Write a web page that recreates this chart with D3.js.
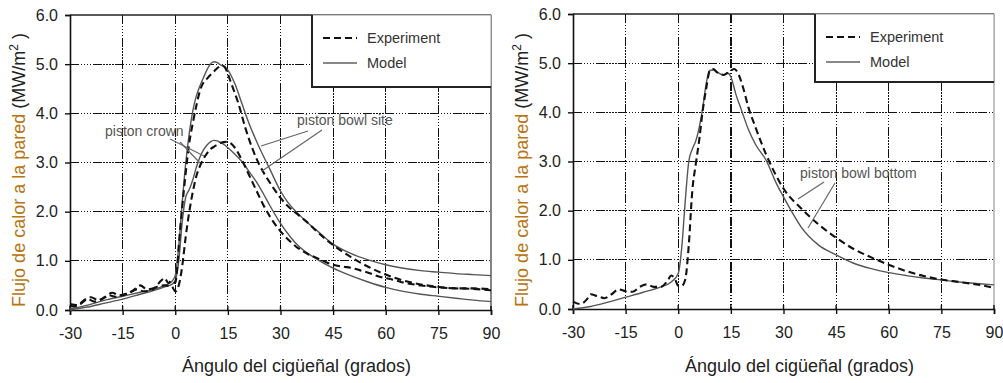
<!DOCTYPE html>
<html lang="es">
<head>
<meta charset="UTF-8">
<title>Flujo de calor a la pared</title>
<script src="https://d3js.org/d3.v7.min.js"></script>
<style>
  body { margin: 0; background: #fff; }
  svg { font-family: "Liberation Sans", Arial, sans-serif; }
  .grid line { stroke: #111; stroke-width: 1; stroke-dasharray: 9,1.5,1.5,1.5,1.5,1.5,1.5,1.5,1.5,1.5; shape-rendering: crispEdges; }
  .tick text { font-size: 16px; fill: #222; }
  .exp { fill: none; stroke: #111; stroke-width: 2.1; stroke-dasharray: 7,4; }
  .model { fill: none; stroke: #555; stroke-width: 1.4; }
  .note { font-size: 14px; fill: #555; }
  .leader { stroke: #666; stroke-width: 1.2; }
</style>
</head>
<body>
<div class="canvas"></div>
<script>
  // ejes
  const xTicks = [-30, -15, 0, 15, 30, 45, 60, 75, 90];
  const yTicks = [0, 1, 2, 3, 4, 5, 6];
  const legendLabels = ["Experiment", "Model"];

  // panel izquierdo: piston crown / piston bowl site  [grados, MW/m2]
  const crownExp = [[-30,0.1],[-29,0.07],[-27,0.12],[-25,0.22],[-23,0.17],[-21,0.22],[-19,0.3],[-17,0.27],[-15,0.3],[-13,0.35],[-11,0.42],[-9,0.38],[-7,0.4],[-5,0.48],[-3,0.5],[-1,0.48],[0,0.38],[1,0.5],[2,0.9],[3,1.5],[4,2.0],[5,2.4],[6,2.72],[7,2.92],[8,3.07],[9,3.18],[10,3.27],[11,3.32],[12,3.36],[13,3.4],[14.5,3.42],[16,3.38],[17,3.3],[19,3.05],[21,2.75],[23,2.45],[25,2.15],[27,1.9],[30,1.6],[33,1.38],[35,1.26],[38,1.13],[40,1.07],[43,0.97],[45,0.92],[48,0.88],[50,0.86],[53,0.8],[55,0.76],[58,0.68],[60,0.65],[63,0.6],[65,0.56],[70,0.5],[75,0.46],[80,0.44],[85,0.43],[90,0.4]];
  const crownModel = [[-30,0.0],[-25,0.06],[-20,0.14],[-15,0.22],[-10,0.32],[-6,0.4],[-3,0.47],[-1,0.52],[0,0.6],[1,1.0],[2,1.8],[3,2.3],[4,2.45],[5,2.65],[6,2.9],[7,3.1],[8,3.25],[9,3.35],[10,3.42],[11,3.45],[12,3.44],[13,3.4],[14,3.36],[15,3.3],[17,3.17],[19,3.02],[21,2.82],[23,2.62],[25,2.38],[27,2.12],[30,1.76],[33,1.47],[35,1.31],[40,1.05],[45,0.85],[50,0.7],[55,0.57],[60,0.46],[65,0.38],[70,0.32],[75,0.28],[80,0.24],[85,0.2],[90,0.17]];
  const bowlSiteExp = [[-30,0.12],[-28,0.1],[-26,0.2],[-24,0.26],[-22,0.2],[-20,0.26],[-18,0.35],[-16,0.3],[-14,0.33],[-12,0.4],[-10,0.5],[-8,0.42],[-6,0.45],[-4,0.6],[-3,0.65],[-2,0.55],[-1,0.6],[0,0.55],[0.5,0.8],[1,1.3],[2,2.1],[3,2.8],[4,3.4],[5,3.8],[6,4.15],[7,4.45],[8,4.62],[9,4.7],[10,4.78],[11,4.85],[12,4.92],[13.3,4.97],[14,4.95],[15,4.8],[16,4.6],[18,4.2],[20,3.7],[22,3.28],[24,2.95],[26,2.7],[28,2.48],[30,2.28],[32,2.12],[35,1.94],[38,1.76],[40,1.62],[45,1.32],[50,1.08],[55,0.88],[60,0.72],[65,0.6],[70,0.52],[75,0.47],[80,0.44],[85,0.44],[90,0.42]];
  const bowlSiteModel = [[-30,0.02],[-25,0.1],[-20,0.2],[-15,0.28],[-10,0.36],[-6,0.42],[-3,0.5],[-1,0.58],[0,0.7],[1,1.3],[2,2.2],[3,3.0],[4,3.6],[5,4.05],[6,4.35],[7,4.55],[8,4.72],[9,4.88],[10,5.0],[11,5.05],[12,5.03],[13,4.98],[14,4.95],[15,4.88],[17,4.6],[19,4.2],[21,3.8],[24,3.3],[27,2.86],[30,2.42],[32,2.2],[35,1.96],[38,1.76],[40,1.64],[45,1.34],[50,1.15],[55,1.02],[60,0.92],[65,0.85],[70,0.8],[75,0.77],[80,0.74],[85,0.72],[90,0.7]];

  // panel derecho: piston bowl bottom
  const bottomExp = [[-30,0.15],[-28,0.1],[-26,0.2],[-25,0.3],[-23,0.26],[-21,0.22],[-19,0.3],[-17,0.4],[-15,0.36],[-13,0.35],[-11,0.45],[-9,0.5],[-7,0.45],[-5,0.45],[-3,0.58],[-2,0.68],[-1,0.62],[0,0.47],[1,0.47],[2,0.6],[3,1.3],[4,2.4],[5,2.95],[6,3.45],[7,4.05],[8,4.5],[9,4.85],[10,4.88],[11,4.82],[12,4.78],[13,4.76],[14,4.8],[15,4.85],[16,4.88],[17,4.8],[18.5,4.5],[20,4.1],[22,3.7],[25,3.15],[28,2.7],[30,2.45],[35,2.05],[40,1.72],[45,1.45],[50,1.22],[55,1.05],[60,0.9],[65,0.77],[70,0.67],[75,0.6],[80,0.55],[85,0.5],[90,0.43]];
  const bottomModel = [[-30,0.0],[-25,0.05],[-20,0.14],[-15,0.24],[-10,0.34],[-5,0.45],[-2,0.55],[0,0.72],[1,1.25],[2,2.2],[3,3.0],[4,3.25],[5,3.42],[6,3.7],[7,4.1],[8,4.6],[9,4.85],[10,4.86],[11,4.82],[12,4.78],[13,4.76],[14,4.8],[15,4.72],[16.5,4.35],[18,4.05],[20,3.65],[22,3.35],[25,3.03],[28,2.55],[30,2.28],[33,1.9],[35,1.67],[40,1.3],[45,1.1],[50,0.93],[55,0.82],[60,0.74],[65,0.68],[70,0.63],[75,0.59],[80,0.55],[85,0.52],[90,0.49]];

  const svg = d3.select('.canvas')
    .append('svg')
    .attr('width', 1003)
    .attr('height', 383)

  function panel(opt) {
    const x = d3.scaleLinear().domain([-30, 90]).range([opt.left, opt.right]);
    const y = d3.scaleLinear().domain([0, 6]).range([opt.bottom, opt.top]);
    const g = svg.append('g');

    // rejilla
    const grid = g.append('g').attr('class', 'grid');
    grid.selectAll('line.h')
      .data(yTicks.slice(1, -1))
      .enter().append('line')
      .attr('x1', opt.left).attr('x2', opt.right)
      .attr('y1', d => y(d)).attr('y2', d => y(d));
    grid.selectAll('line.v')
      .data(xTicks.slice(1, -1))
      .enter().append('line')
      .attr('x1', d => x(d)).attr('x2', d => x(d))
      .attr('y1', opt.top).attr('y2', opt.bottom)
      .style('stroke-width', d => d === opt.thick ? 2 : 1);

    // marco
    g.append('line').attr('x1', opt.left).attr('x2', opt.right).attr('y1', opt.top).attr('y2', opt.top)
      .attr('stroke', '#222').attr('stroke-width', 1.5);
    g.append('line').attr('x1', opt.right).attr('x2', opt.right).attr('y1', opt.top).attr('y2', opt.bottom)
      .attr('stroke', opt.rightColor).attr('stroke-width', 1.2);

    // ejes
    const xAxis = g.append('g')
      .attr('transform', `translate(0,${opt.bottom})`)
      .call(d3.axisBottom(x).tickValues(xTicks).tickSize(5).tickPadding(13).tickFormat(d => String(d)));
    const yAxis = g.append('g')
      .attr('transform', `translate(${opt.left},0)`)
      .call(d3.axisLeft(y).tickValues(yTicks).tickSize(5).tickPadding(7).tickFormat(d => d.toFixed(1)));
    [xAxis, yAxis].forEach(a => {
      a.select('.domain').attr('stroke', '#111').attr('stroke-width', 1.6);
      a.selectAll('.tick line').attr('stroke', '#111').attr('stroke-width', 1.4);
    });
    // marcas hacia dentro del eje x
    g.selectAll('line.tin')
      .data(xTicks)
      .enter().append('line')
      .attr('x1', d => x(d)).attr('x2', d => x(d))
      .attr('y1', opt.bottom - 4).attr('y2', opt.bottom)
      .attr('stroke', '#111').attr('stroke-width', 1.4);

    // curvas
    const line = d3.line()
      .x(d => x(d[0]))
      .y(d => y(d[1]))
      .curve(d3.curveMonotoneX);
    opt.series.forEach(s => {
      g.append('path')
        .datum(s.data)
        .attr('class', s.cls)
        .attr('d', line);
    });

    // leyenda
    const lg = g.append('g');
    lg.append('rect')
      .attr('x', opt.legX).attr('y', opt.top)
      .attr('width', opt.right - opt.legX).attr('height', opt.legH)
      .attr('fill', '#fff').attr('stroke', '#999').attr('stroke-width', 1);
    lg.append('path')
      .attr('d', `M${opt.legX},${opt.top}V${opt.top + opt.legH}H${opt.right}`)
      .attr('fill', 'none').attr('stroke', '#222').attr('stroke-width', 2);
    legendLabels.forEach((lab, i) => {
      const ly = opt.top + 23 + i * 25;
      lg.append('line')
        .attr('class', i === 0 ? 'exp' : 'model')
        .attr('x1', opt.legX + 11).attr('x2', opt.legX + 45)
        .attr('y1', ly).attr('y2', ly)
        .style('stroke', '#111')
        .style('stroke-width', i === 0 ? 2.2 : 1);
      lg.append('text')
        .attr('x', opt.legX + 55).attr('y', ly + 5)
        .attr('font-size', 14.5).attr('fill', '#333')
        .text(lab);
    });

    // anotaciones
    opt.notes.forEach(n => {
      g.append('text').attr('class', 'note')
        .attr('x', n.x).attr('y', n.y).text(n.text);
      n.leaders.forEach(l => {
        g.append('line').attr('class', 'leader')
          .attr('x1', l[0]).attr('y1', l[1]).attr('x2', l[2]).attr('y2', l[3]);
      });
    });

    // títulos
    g.append('text')
      .attr('x', (opt.left + opt.right) / 2 + 16)
      .attr('y', 372)
      .attr('text-anchor', 'middle')
      .attr('font-size', 18).attr('fill', '#222')
      .text('Ángulo del cigüeñal (grados)');
    const yt = g.append('text')
      .attr('transform', `translate(${opt.left - 45},170) rotate(-90)`)
      .attr('text-anchor', 'middle')
      .attr('font-size', 18);
    yt.append('tspan').attr('fill', '#b8740f').text('Flujo de calor a la pared ');
    yt.append('tspan').attr('fill', '#222').text('(MW/m');
    yt.append('tspan').attr('fill', '#222').attr('font-size', 12).attr('dy', -7).text('2');
    yt.append('tspan').attr('fill', '#222').attr('dy', 7).text(' )');
  }

  panel({
    left: 70, right: 491, top: 15, bottom: 310,
    legX: 312, legH: 72, thick: null, rightColor: '#333',
    series: [
      { data: crownModel, cls: 'model' },
      { data: bowlSiteModel, cls: 'model' },
      { data: crownExp, cls: 'exp' },
      { data: bowlSiteExp, cls: 'exp' }
    ],
    notes: [
      { text: 'piston crown', x: 105, y: 136, leaders: [[170, 139, 204, 156], [180, 142, 200, 163]] },
      { text: 'piston bowl site', x: 297, y: 125, leaders: [[308, 131, 261, 146], [322, 130, 262, 171]] }
    ]
  });

  panel({
    left: 573, right: 994, top: 14, bottom: 309,
    legX: 815, legH: 68, thick: 15, rightColor: '#999',
    series: [
      { data: bottomModel, cls: 'model' },
      { data: bottomExp, cls: 'exp' }
    ],
    notes: [
      { text: 'piston bowl bottom', x: 800, y: 178, leaders: [[824, 182, 798, 199], [835, 183, 808, 228]] }
    ]
  });
</script>
</body>
</html>
